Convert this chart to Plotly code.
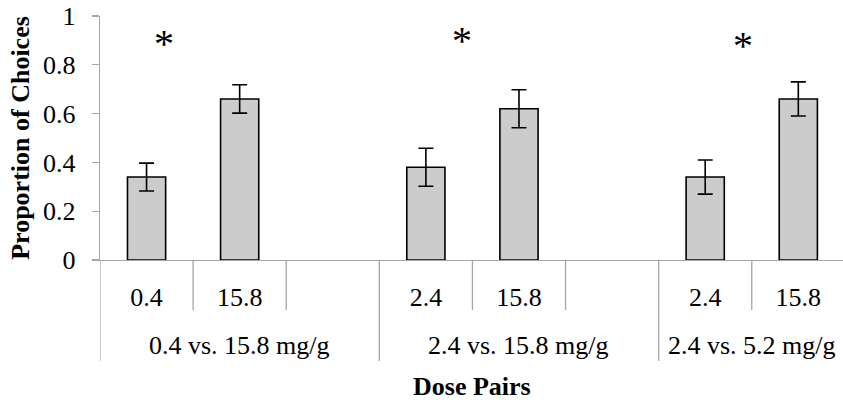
import plotly.graph_objects as go

# ---- data ----
groups = ["0.4 vs. 15.8 mg/g", "2.4 vs. 15.8 mg/g", "2.4 vs. 5.2 mg/g"]
sub_labels = ["0.4", "15.8", "", "2.4", "15.8", "", "2.4", "15.8"]
slot_group = [0, 0, 0, 1, 1, 1, 2, 2]
values = [0.34, 0.66, None, 0.38, 0.62, None, 0.34, 0.66]
errors = [0.057, 0.058, None, 0.078, 0.078, None, 0.07, 0.07]
y_ticks = [0, 0.2, 0.4, 0.6, 0.8, 1]
y_ticktext = ["0", "0.2", "0.4", "0.6", "0.8", "1"]
sig_marks = ["*", "*", "*"]

FONT = "Liberation Serif"
AXIS_GRAY = "#A6A6A6"

W, H = 843, 402
ML, MR, MT, MB = 100, 0, 16, 142
plot_h = H - MT - MB

xs = list(range(len(sub_labels)))
bx = [x for x, v in zip(xs, values) if v is not None]
bv = [v for v in values if v is not None]
be = [e for e in errors if e is not None]

fig = go.Figure()
fig.add_trace(go.Bar(
    x=bx, y=bv, width=0.41,
    marker=dict(color="#CCCCCC", line=dict(color="black", width=1.6)),
    error_y=dict(type="data", array=be, visible=True, color="black",
                 thickness=1.6, width=7.5),
    showlegend=False, hoverinfo="skip",
))

def py(px_below):
    # pixel distance below the x-axis -> paper coordinate
    return -px_below / plot_h

shapes = []
n = len(sub_labels)
# boundaries between slots
for i in range(-1, n - 1):
    b = i + 0.5
    is_group_edge = (i == -1) or (slot_group[i] != slot_group[i + 1])
    y1 = py(101) if is_group_edge else py(50)
    shapes.append(dict(type="line", xref="x", yref="paper", x0=b, x1=b,
                       y0=0, y1=y1, line=dict(color=AXIS_GRAY, width=1.3)))

annotations = []
# group labels centered over their slots
for gi, g in enumerate(groups):
    idx = [i for i, s in enumerate(slot_group) if s == gi]
    lo, hi = idx[0] - 0.5, idx[-1] + 0.5
    annotations.append(dict(x=(lo + hi) / 2, y=py(85), xref="x", yref="paper",
                            text=g, showarrow=False, yanchor="middle",
                            font=dict(family=FONT, size=26, color="black")))

# significance asterisks
sig_offsets = [0.19, 0.39, 0.41]
sig_heights = [0.886, 0.898, 0.878]
for gi, m in enumerate(sig_marks):
    first = [i for i, s in enumerate(slot_group) if s == gi][0]
    annotations.append(dict(x=first + sig_offsets[gi], y=sig_heights[gi],
                            xref="x", yref="y", text=m, showarrow=False,
                            yanchor="middle",
                            font=dict(family=FONT, size=40, color="black")))

# x axis title
annotations.append(dict(x=0.5, y=py(126), xref="paper", yref="paper",
                        text="<b>Dose Pairs</b>", showarrow=False,
                        yanchor="middle",
                        font=dict(family=FONT, size=26, color="black")))

fig.update_layout(
    width=W, height=H,
    margin=dict(l=ML, r=MR, t=MT, b=MB, pad=0),
    paper_bgcolor="white", plot_bgcolor="white",
    font=dict(family=FONT, size=26, color="black"),
    bargap=0.59,
    shapes=shapes,
    annotations=annotations,
    xaxis=dict(
        range=[-0.5, n - 0.52], tickmode="array", tickvals=xs,
        ticktext=sub_labels, ticks="", showgrid=False, zeroline=False,
        showline=True, linecolor=AXIS_GRAY, linewidth=1.3,
        tickfont=dict(family=FONT, size=26, color="black"),
        ticklabelstandoff=13, automargin=False,
    ),
    yaxis=dict(
        range=[0, 1], tickmode="array", tickvals=y_ticks, ticktext=y_ticktext,
        ticks="outside", ticklen=7, tickcolor=AXIS_GRAY, tickwidth=1.3,
        showgrid=False, zeroline=False, showline=True, linecolor=AXIS_GRAY,
        linewidth=1.3, automargin=False,
        tickfont=dict(family=FONT, size=26, color="black"),
        ticklabelstandoff=11,
        title=dict(text="<b>Proportion of Choices</b>",
                   font=dict(family=FONT, size=26, color="black"),
                   standoff=6),
    ),
)

fig.write_html("out.html",
               config={"displayModeBar": False, "staticPlot": True},
               post_script="document.body.style.margin='0';document.body.style.overflow='hidden';")
